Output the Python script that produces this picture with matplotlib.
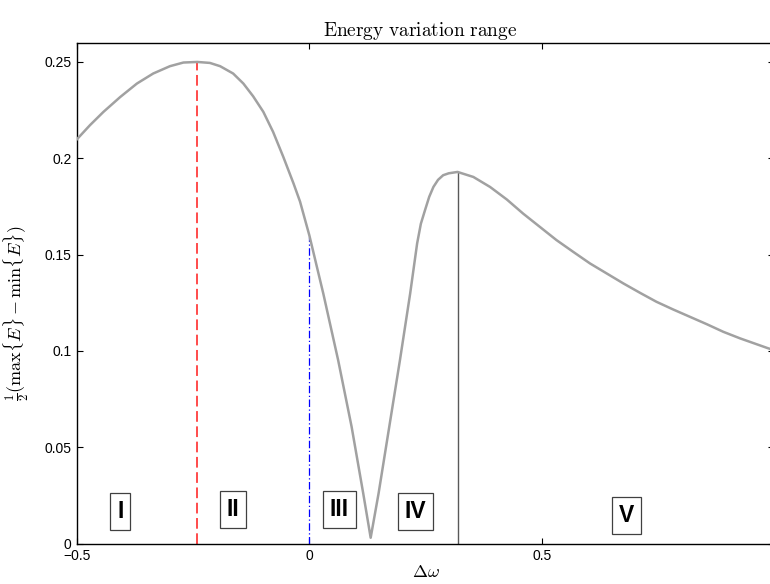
import numpy as np
import matplotlib
matplotlib.use("Agg")
import matplotlib.pyplot as plt

plt.rcParams['mathtext.fontset'] = 'cm'
plt.rcParams['font.family'] = ['Liberation Sans', 'DejaVu Sans']

# curve
dw = [-0.500, -0.472, -0.443, -0.407, -0.371, -0.336, -0.300, -0.271, -0.241,
      -0.214, -0.192, -0.164, -0.142, -0.121, -0.099, -0.078, -0.056, -0.034,
      -0.020, 0.000, 0.030, 0.062, 0.091, 0.116, 0.132, 0.149, 0.172, 0.195,
      0.217, 0.232, 0.240, 0.249, 0.258, 0.267, 0.277, 0.288, 0.300, 0.319,
      0.353, 0.389, 0.425, 0.460, 0.496, 0.532, 0.568, 0.604, 0.640, 0.676,
      0.712, 0.747, 0.783, 0.819, 0.855, 0.891, 0.927, 0.988, 1.000]
e_range = [0.2099, 0.2172, 0.2241, 0.2318, 0.2388, 0.2440, 0.2478, 0.2497, 0.2500,
           0.2495, 0.2478, 0.2440, 0.2388, 0.2322, 0.2241, 0.2137, 0.2007, 0.1869,
           0.1775, 0.1600, 0.1298, 0.0952, 0.0606, 0.0260, 0.0030, 0.0260, 0.0606, 0.0952,
           0.1298, 0.1558, 0.1660, 0.1731, 0.1800, 0.1851, 0.1888, 0.1912, 0.1922, 0.1929,
           0.1903, 0.1851, 0.1786, 0.1713, 0.1644, 0.1575, 0.1514, 0.1454, 0.1402, 0.1350,
           0.1301, 0.1255, 0.1215, 0.1177, 0.1139, 0.1099, 0.1065, 0.1013, 0.1005]

# region boundaries
bound_x = [-0.241, 0.0, 0.319]
bound_top = [0.250, 0.159, 0.193]

regions = ['I', 'II', 'III', 'IV', 'V']
region_x = [-0.407, -0.164, 0.0645, 0.229, 0.6835]
region_y = [0.0165, 0.0178, 0.0178, 0.0166, 0.0145]

xticks = [-0.5, 0, 0.5]
xticklabels = ['\u22120.5', '0', '0.5']
yticks = [0, 0.05, 0.1, 0.15, 0.2, 0.25]
yticklabels = ['0', '0.05', '0.1', '0.15', '0.2', '0.25']

fig = plt.figure(figsize=(7.7, 5.84), dpi=100)
ax = fig.add_axes([0.1, 0.0693, 0.9052, 0.8576])

ax.plot(dw, e_range, color='0.63', lw=1.8, zorder=3, solid_joinstyle='round')

ax.plot([bound_x[0]] * 2, [0, bound_top[0]], color='#ff1a1a', lw=1.1,
        linestyle=(0, (7, 3)), zorder=2)
ax.plot([bound_x[1]] * 2, [0, bound_top[1]], color='#0000ff', lw=0.9,
        linestyle=(0, (6, 2, 1, 2)), zorder=2)
ax.plot([bound_x[2]] * 2, [0, bound_top[2]], color='0.35', lw=1.0, zorder=2)

for lab, x, y in zip(regions, region_x, region_y):
    ax.text(x, y, lab, ha='center', va='center', fontsize=16.5,
            fontweight='bold', family='Liberation Sans',
            bbox=dict(boxstyle='square,pad=0.3', facecolor='white',
                      edgecolor='0.25', lw=0.9))

ax.set_xlim(-0.5, 1.0)
ax.set_ylim(0, 0.26)
ax.set_xticks(xticks)
ax.set_xticklabels(xticklabels)
ax.set_yticks(yticks)
ax.set_yticklabels(yticklabels)
ax.tick_params(direction='in', length=4.5, width=0.8, labelsize=10, pad=4,
               top=True, right=True)
for sp in ax.spines.values():
    sp.set_linewidth(1.0)

ax.set_title(r'$\mathrm{Energy\ variation\ range}$', fontsize=13.9, x=0.4917, pad=5)
ax.set_xlabel(r'$\Delta\omega$', fontsize=13, labelpad=1)
ax.set_ylabel(r'$\frac{1}{2}(\max\{E\}-\min\{E\})$', fontsize=13)
ax.yaxis.set_label_coords(-0.066, 0.46)

fig.savefig('out.png', dpi=100)
